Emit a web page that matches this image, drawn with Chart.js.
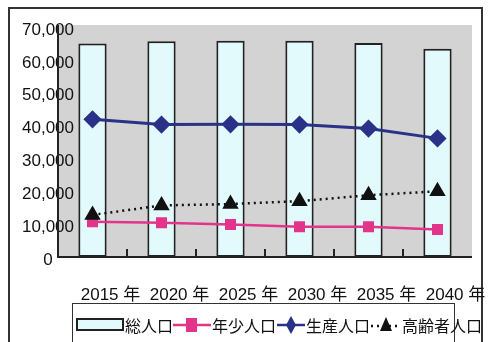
<!DOCTYPE html>
<html>
<head>
<meta charset="utf-8">
<script src="https://cdn.jsdelivr.net/npm/chart.js@4"></script>
<style>
  html, body { margin:0; padding:0; background:#fff; }
  #wrap { position:relative; width:499px; height:342px; overflow:hidden; }
  #frame { position:absolute; left:8px; top:7px; width:475px; height:360px; border:2px solid #333; box-sizing:border-box; }
  canvas { position:absolute; left:0; top:0; }
  #legend { position:absolute; left:72px; top:303px; width:383px; height:60px; border:1.5px solid #333; box-sizing:border-box; }
  .lg { position:absolute; font-family:'Noto Sans CJK JP', sans-serif; font-size:16px; color:#111; top:11px; line-height:20px; white-space:nowrap; }
  .sw { position:absolute; top:8px; }
</style>
</head>
<body>
<div id="wrap">
  <div id="frame"></div>
  <canvas id="c" width="499" height="342"></canvas>
  <div id="legend">
    <svg class="sw" style="left:2px" width="50" height="26"><rect x="2" y="7" width="46" height="11" fill="#e3fafd" stroke="#222" stroke-width="2"/></svg>
    <span class="lg" style="left:52px">総人口</span>
    <svg class="sw" style="left:100px" width="38" height="26"><line x1="0" y1="13" x2="38" y2="13" stroke="#e2358a" stroke-width="2.5"/><rect x="13" y="6" width="11" height="14" fill="#e2358a"/></svg>
    <span class="lg" style="left:139px">年少人口</span>
    <svg class="sw" style="left:204px" width="28" height="26"><line x1="0" y1="13" x2="28" y2="13" stroke="#2a3188" stroke-width="2.5"/><polygon points="14,4 19,13 14,22 9,13" fill="#2a3188"/></svg>
    <span class="lg" style="left:233px">生産人口</span>
    <svg class="sw" style="left:298px" width="30" height="26"><line x1="0" y1="14" x2="30" y2="14" stroke="#111" stroke-width="2.5" stroke-dasharray="2,4"/><polygon points="15,5 21,19 9,19" fill="#111"/></svg>
    <span class="lg" style="left:329px">高齢者人口</span>
  </div>
</div>
<script>
const years = ['2015 年', '2020 年', '2025 年', '2030 年', '2035 年', '2040 年'];
const totalPop = [65000, 65700, 65800, 65800, 65100, 63400];
const youthPop = [10700, 10400, 9900, 9200, 9200, 8400];
const workingPop = [41900, 40300, 40400, 40300, 39100, 36100];
const elderlyPop = [12800, 15700, 16100, 17000, 18800, 20000];
const seriesNames = ['総人口', '年少人口', '生産人口', '高齢者人口'];

const FONT = "'Liberation Sans', 'Noto Sans CJK JP', sans-serif";

const plotBg = {
  id: 'plotBg',
  beforeDraw(chart) {
    const {ctx, chartArea: a} = chart;
    ctx.save();
    ctx.fillStyle = '#d3d3d3';
    ctx.fillRect(a.left, a.top - 2, a.right - a.left, a.bottom - a.top + 2);
    ctx.restore();
  }
};
const innerTicks = {
  id: 'innerTicks',
  afterDatasetsDraw(chart) {
    const {ctx, chartArea: a} = chart;
    const xs = chart.scales.x;
    ctx.save();
    ctx.strokeStyle = '#222';
    ctx.lineWidth = 2;
    for (let i = 0; i < years.length - 1; i++) {
      const x = Math.round((xs.getPixelForValue(i) + xs.getPixelForValue(i + 1)) / 2);
      ctx.beginPath();
      ctx.moveTo(x, a.bottom);
      ctx.lineTo(x, a.bottom - 8);
      ctx.stroke();
    }
    ctx.beginPath();
    ctx.moveTo(a.left, a.top - 2);
    ctx.lineTo(a.left, a.bottom);
    ctx.lineTo(a.right, a.bottom);
    ctx.stroke();
    ctx.restore();
  }
};

new Chart(document.getElementById('c'), {
  data: {
    labels: years,
    datasets: [
      { type: 'line', label: seriesNames[1], data: youthPop, order: 3,
        borderColor: '#e2358a', backgroundColor: '#e2358a', borderWidth: 2.5,
        pointStyle: 'rect', pointRadius: 6, pointHoverRadius: 6 },
      { type: 'line', label: seriesNames[2], data: workingPop, order: 2,
        borderColor: '#2a3188', backgroundColor: '#2a3188', borderWidth: 3,
        pointStyle: 'rectRot', pointRadius: 7, pointHoverRadius: 7 },
      { type: 'line', label: seriesNames[3], data: elderlyPop, order: 1,
        borderColor: '#111', backgroundColor: '#111', borderWidth: 2.5, borderDash: [2, 4],
        pointStyle: 'triangle', pointRadius: 7, pointHoverRadius: 7 },
      { type: 'bar', label: seriesNames[0], data: totalPop, order: 10,
        backgroundColor: '#e3fafd', borderColor: '#222', borderWidth: 2, borderSkipped: false,
        categoryPercentage: 1, barPercentage: 0.41 }
    ]
  },
  options: {
    responsive: false,
    animation: false,
    layout: { padding: { left: 0, right: 27, top: 27, bottom: 25 } },
    plugins: { legend: { display: false }, tooltip: { enabled: false } },
    scales: {
      x: {
        grid: { display: false, drawTicks: false },
        border: { display: false },
        ticks: { color: '#111', font: { family: FONT, size: 17 }, padding: 28, labelOffset: 18, maxRotation: 0, autoSkip: false },
        afterFit(s) { s.height = 60; }
      },
      y: {
        min: 0, max: 70000,
        grid: { display: false, drawTicks: false },
        border: { display: false },
        ticks: { stepSize: 10000, color: '#111', font: { family: FONT, size: 17 }, mirror: true, padding: -36, crossAlign: 'center', labelOffset: 3,
          callback: v => v.toLocaleString('en-US') },
        afterFit(s) { s.width = 58; }
      }
    }
  },
  plugins: [plotBg, innerTicks]
});
</script>
</body>
</html>
